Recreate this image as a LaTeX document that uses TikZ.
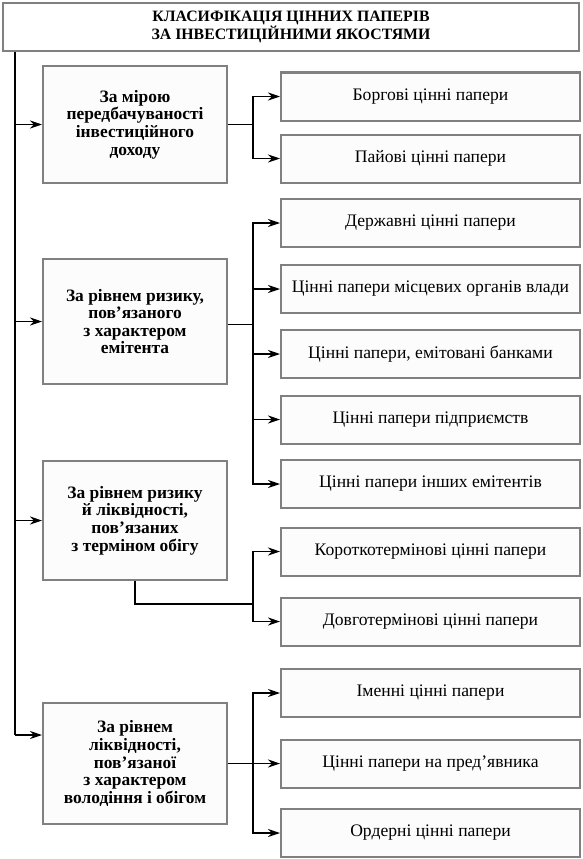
\documentclass[tikz,border=0pt]{standalone}
\usepackage{fontspec}
\setmainfont{Liberation Serif}
\usepackage{tikz}
\usetikzlibrary{arrows.meta,positioning}

\begin{document}
\begin{tikzpicture}[x=1pt, y=-1pt,
  title/.style={draw=black!50, line width=2pt, fill=white, minimum width=576pt, minimum height=48pt, align=center, font=\fontsize{15.8}{16}\selectfont\bfseries},
  group/.style={draw=black!50, line width=2pt, fill=black!1, minimum width=184pt, align=center, font=\fontsize{17.4}{17.6}\selectfont\bfseries},
  item/.style={draw=black!50, line width=2pt, fill=black!1, minimum width=299pt, minimum height=48pt, align=center, font=\fontsize{17.6}{18}\selectfont},
  arrow/.style={-{Stealth[length=12pt, width=8pt, inset=4pt]}, line width=1.2pt},
  link/.style={line width=1.2pt}
]
\useasboundingbox (0,0) rectangle (582,859);

\node[title] (t) at (291,27) {КЛАСИФІКАЦІЯ ЦІННИХ ПАПЕРІВ\\ЗА ІНВЕСТИЦІЙНИМИ ЯКОСТЯМИ};

% criteria
\node[group, minimum height=116pt] (g1) at (135,124.5) {За мірою\\передбачуваності\\інвестиційного\\доходу};
\node[group, minimum height=125pt] (g2) at (135,321.5) {За рівнем ризику,\\пов’язаного\\з характером\\емітента};
\node[group, minimum height=119pt] (g3) at (135,520.5) {За рівнем ризику\\й ліквідності,\\пов’язаних\\з терміном обігу};
\node[group, minimum height=121pt] (g4) at (135,763.5) {За рівнем\\ліквідності,\\пов’язаної\\з характером\\володіння і обігом};

% kinds of securities
\node[item] (r1) at (430.5,96.5) {Боргові цінні папери};
\node[item] (r2) at (430.5,158.5) {Пайові цінні папери};
\node[item] (r3) at (430.5,223) {Державні цінні папери};
\node[item] (r4) at (430.5,289) {Цінні папери місцевих органів влади};
\node[item] (r5) at (430.5,354) {Цінні папери, емітовані банками};
\node[item] (r6) at (430.5,419.5) {Цінні папери підприємств};
\node[item] (r7) at (430.5,484) {Цінні папери інших емітентів};
\node[item] (r8) at (430.5,551.5) {Короткотермінові цінні папери};
\node[item] (r9) at (430.5,621.5) {Довготермінові цінні папери};
\node[item] (r10) at (430.5,693) {Іменні цінні папери};
\node[item] (r11) at (430.5,763.5) {Цінні папери на пред’явника};
\node[item] (r12) at (430.5,833) {Ордерні цінні папери};

% trunk
\coordinate (trunk) at (15,52);
\coordinate (trunkend) at (15,735);
\draw[link] (trunk) -- (trunkend);
\foreach \g in {g1,g2,g3}
  \draw[arrow] (trunk |- \g.west) -- (\g.west);
\draw[arrow] (trunkend) -- (trunkend -| g4.west);

% branches
\draw[link] (g1.east) -- ++(25,0) coordinate (b1);
\foreach \r in {r1,r2}
  \draw[arrow] (b1) |- (\r.west);

\draw[link] (g2.east) ++(0,3) -- ++(25,0) coordinate (b2);
\foreach \r in {r3,r4,r5,r6,r7}
  \draw[arrow] (b2) |- (\r.west);

\coordinate (b3) at (253,604);
\draw[link] (g3.south) |- (b3);
\foreach \r in {r8,r9}
  \draw[arrow] (b3) |- (\r.west);

\draw[link] (g4.east) -- ++(25,0) coordinate (b4);
\foreach \r in {r10,r11,r12}
  \draw[arrow] (b4) |- (\r.west);
\end{tikzpicture}
\end{document}
